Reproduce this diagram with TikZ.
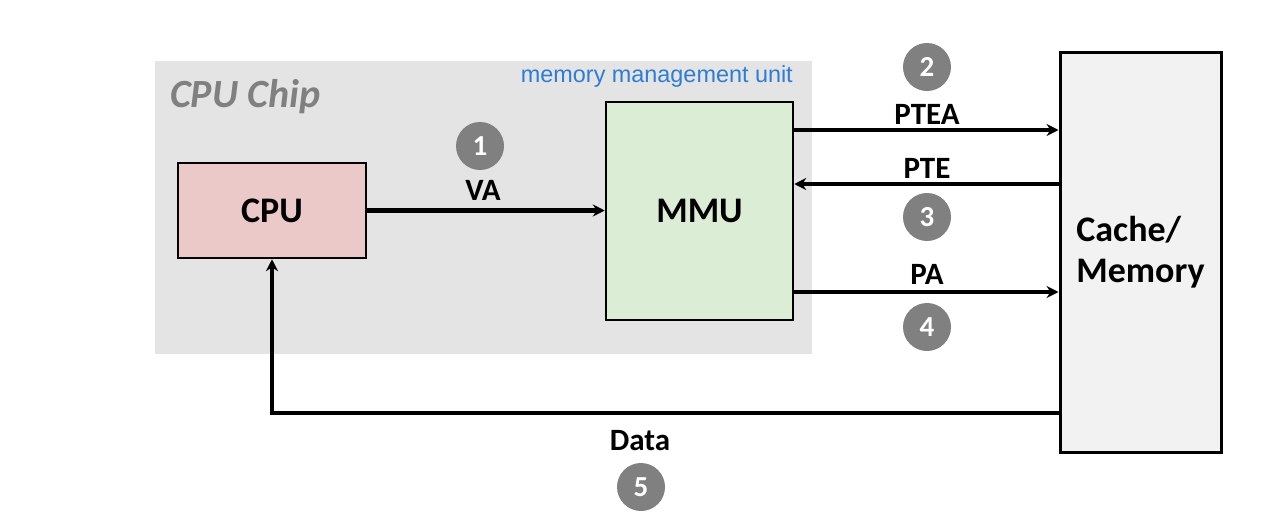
\documentclass[tikz,border=0pt]{standalone}
\usepackage{fontspec}
\setmainfont{Carlito}
\newfontfamily\arialfont{Liberation Sans}
\usetikzlibrary{arrows.meta}

\definecolor{chipgray}{RGB}{228,228,228}
\definecolor{cpufill}{RGB}{235,201,201}
\definecolor{mmufill}{RGB}{220,237,213}
\definecolor{memfill}{RGB}{242,242,242}
\definecolor{stepgray}{RGB}{128,128,128}
\definecolor{mmublue}{RGB}{46,125,212}

\tikzset{
  unitbox/.style={draw=black, line width=2.5pt, inner sep=0pt,
    font=\fontsize{36}{41}\selectfont\bfseries},
  stepdot/.style={circle, fill=stepgray, minimum size=48pt, inner sep=0pt,
    text=white, font=\fontsize{29}{32}\selectfont\bfseries},
  buslabel/.style={inner sep=0pt, font=\fontsize{31}{34}\selectfont\bfseries},
  bus/.style={line width=4.3pt, -{Stealth[length=12pt,width=12pt,inset=4pt]}},
}

\begin{document}
\begin{tikzpicture}[x=1pt, y=-1pt]
  \useasboundingbox (0,0) rectangle (1286,528);

  % chip area
  \fill[chipgray] (155,61) rectangle (812,354);
  \node[anchor=west, inner sep=0pt, text=stepgray,
        font=\fontsize{40}{44}\selectfont\bfseries\itshape] (chiplabel) at (170,97) {CPU Chip};
  \node[anchor=east, inner sep=0pt, text=mmublue,
        font=\fontsize{23.4}{26}\arialfont] (mmulabel) at (793,76) {memory management unit};

  % units
  \node[unitbox, fill=cpufill, minimum width=188pt, minimum height=95pt] (cpu) at (272,210.5) {CPU};
  \node[unitbox, fill=mmufill, minimum width=187pt, minimum height=218pt] (mmu) at (699.5,211) {MMU};
  \node[unitbox, fill=memfill, line width=3pt, minimum width=161pt, minimum height=400pt,
        align=left] (mem) at (1140.5,252) {Cache/\\Memory};

  % bus rows
  \coordinate (yptea) at (0,130);
  \coordinate (ypte) at (0,184);
  \coordinate (ypa) at (0,292);
  \coordinate (ydata) at (0,413);

  \draw[bus] (cpu.east) -- (cpu.east -| mmu.west);
  \draw[bus] (mmu.east |- yptea) -- (mem.west |- yptea);
  \draw[bus] (mem.west |- ypte) -- (mmu.east |- ypte);
  \draw[bus] (mmu.east |- ypa) -- (mem.west |- ypa);
  \draw[bus] (mem.west |- ydata) -| (cpu.south);

  % bus labels
  \node[buslabel] (lva) at (483,190) {VA};
  \node[buslabel] (lptea) at (927,114) {PTEA};
  \node[buslabel] (lpte) at (927,168) {PTE};
  \node[buslabel] (lpa) at (927,274) {PA};
  \node[buslabel] (ldata) at (640,441) {Data};

  % step numbers
  \node[stepdot] (s1) at (480,146) {1};
  \node[stepdot] (s2) at (927,67) {2};
  \node[stepdot] (s3) at (927,217) {3};
  \node[stepdot] (s4) at (927,327) {4};
  \node[stepdot] (s5) at (641,487) {5};
\end{tikzpicture}
\end{document}
